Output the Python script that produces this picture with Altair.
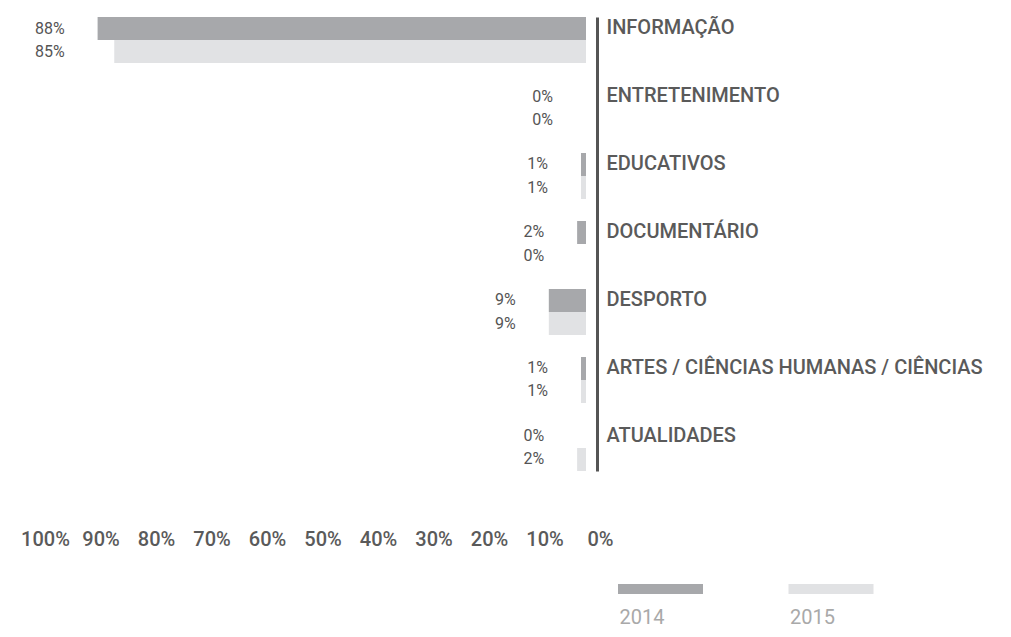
import altair as alt
import pandas as pd

categories = [
    "INFORMAÇÃO",
    "ENTRETENIMENTO",
    "EDUCATIVOS",
    "DOCUMENTÁRIO",
    "DESPORTO",
    "ARTES / CIÊNCIAS HUMANAS / CIÊNCIAS",
    "ATUALIDADES",
]
years = ["2014", "2015"]
# bar lengths as drawn (percent)
bars_2014 = [88, 0, 0.9, 1.6, 6.7, 0.9, 0]
bars_2015 = [85, 0, 0.9, 0, 6.7, 0.9, 1.6]
# printed labels
labels_2014 = ["88%", "0%", "1%", "2%", "9%", "1%", "0%"]
labels_2015 = ["85%", "0%", "1%", "0%", "9%", "1%", "2%"]
colors = ["#a7a8ab", "#e1e2e4"]
ticks = [0, 10, 20, 30, 40, 50, 60, 70, 80, 90, 100]

rows = []
for c, v, l in zip(categories, bars_2014, labels_2014):
    rows.append({"cat": c, "year": "2014", "value": v, "label": l})
for c, v, l in zip(categories, bars_2015, labels_2015):
    rows.append({"cat": c, "year": "2015", "value": v, "label": l})
df = pd.DataFrame(rows)
legend_df = pd.DataFrame({"year": years})

FONT = "Roboto"
color_scale = alt.Scale(domain=years, range=colors)
x_scale = alt.Scale(domain=[0, 100], reverse=True, nice=False, zero=True)
y_scale = alt.Scale(domain=categories, paddingInner=0.3235, paddingOuter=0)
off_scale = alt.Scale(paddingInner=0, paddingOuter=0)

y_axis = alt.Axis(
    orient="right",
    offset=11,
    domain=True,
    domainColor="#555555",
    domainWidth=3,
    ticks=False,
    tickSize=0,
    grid=False,
    labelPadding=9,
    labelOffset=-12,
    labelFont=FONT,
    labelFontSize=20,
    labelFontWeight=500,
    labelColor="#5a5a5a",
    labelAlign="left",
    labelLimit=0,
    title=None,
)

base = alt.Chart(df)

bars = base.mark_bar(opacity=1).encode(
    x=alt.X(
        "value:Q",
        scale=x_scale,
        axis=alt.Axis(
            values=ticks,
            labelExpr="datum.value + '%'",
            domain=False,
            ticks=False,
            tickSize=0,
            grid=False,
            labelPadding=58,
            labelFont=FONT,
            labelFontSize=20,
            labelFontWeight=500,
            labelColor="#5a5a5a",
            labelOffset=14,
            labelFlush=False,
            labelOverlap=False,
            title=None,
        ),
    ),
    y=alt.Y("cat:N", scale=y_scale, sort=categories, axis=y_axis),
    yOffset=alt.YOffset("year:N", sort=years, scale=off_scale),
    color=alt.Color("year:N", scale=color_scale, legend=None),
)

value_labels = base.transform_joinaggregate(
    catmax="max(value)", groupby=["cat"]
).mark_text(
    align="right", baseline="middle", dx=-33, font=FONT, fontSize=16, color="#555555"
).encode(
    x=alt.X("catmax:Q", scale=x_scale, axis=None),
    y=alt.Y("cat:N", scale=y_scale, sort=categories, axis=y_axis),
    yOffset=alt.YOffset("year:N", sort=years, scale=off_scale),
    text="label:N",
)

lbase = alt.Chart(legend_df)
leg_x = alt.X("year:N", sort=years, scale=alt.Scale(type="point", range=[629.5, 800], padding=0), axis=None)
swatches = lbase.mark_point(
    shape="M-1,-0.1176H1V0.1176H-1Z", size=7225, filled=True, opacity=1, strokeWidth=0
).encode(
    x=leg_x,
    y=alt.value(572),
    color=alt.Color("year:N", scale=color_scale, legend=None),
)
leg_text = lbase.mark_text(
    align="left", baseline="middle", dx=-41, font=FONT, fontSize=20, color="#a9a9a9"
).encode(
    x=leg_x,
    y=alt.value(601),
    text="year:N",
)

chart = (
    alt.layer(bars, value_labels, swatches, leg_text)
    .resolve_scale(x="independent")
    .properties(
        width=555,
        height=454,
        padding={"left": 23, "top": 9, "right": 415, "bottom": 158},
        autosize=alt.AutoSizeParams(type="none"),
        background="#ffffff",
    )
    .configure_view(stroke=None, strokeWidth=0)
)

chart.save("out.html", embed_options={"renderer": "svg", "actions": False})
